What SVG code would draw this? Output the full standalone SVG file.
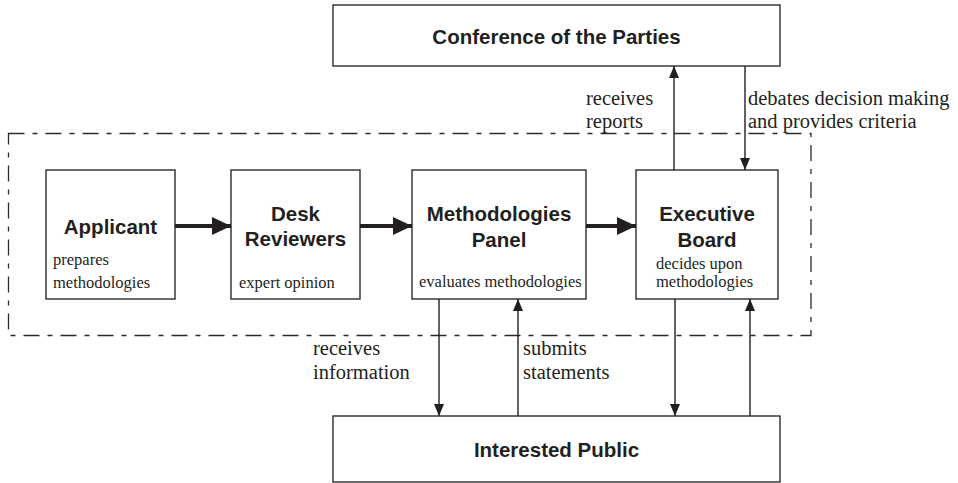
<svg xmlns="http://www.w3.org/2000/svg" width="958" height="483" viewBox="0 0 958 483">
<style>
.box{fill:#fff;stroke:#2b2b2b;stroke-width:1.4}
.bold{font-family:"Liberation Sans",Arial,sans-serif;font-weight:bold;font-size:20.5px;fill:#231f20;text-anchor:middle}
.small{font-family:"Liberation Serif","Times New Roman",serif;font-size:16.5px;fill:#231f20}
.lbl{font-family:"Liberation Serif","Times New Roman",serif;font-size:20.5px;fill:#231f20}
.thick{stroke:#231f20;stroke-width:4;fill:none}
.thin{stroke:#231f20;stroke-width:1.4;fill:none}
.dash{fill:none;stroke:#2b2b2b;stroke-width:1.3;stroke-dasharray:16 8 5 8}
</style>
<defs>
<marker id="big" markerUnits="userSpaceOnUse" markerWidth="20" markerHeight="20" refX="19" refY="10" orient="auto">
<path d="M0,1 L19,10 L0,19 Z" fill="#231f20"/>
</marker>
<marker id="sm" markerUnits="userSpaceOnUse" markerWidth="12" markerHeight="12" refX="12" refY="6" orient="auto">
<path d="M0,1 L12,6 L0,11 Z" fill="#231f20"/>
</marker>
</defs>
<rect class="dash" x="8.5" y="133.5" width="802.5" height="202"/>
<g id="conference">
<rect class="box" x="333" y="5" width="447" height="61"/>
<text class="bold" x="556.5" y="44">Conference of the Parties</text>
</g>
<g id="applicant">
<rect class="box" x="46" y="170" width="129" height="129"/>
<text class="bold" x="110.5" y="234">Applicant</text>
<text class="small" x="53" y="265">prepares</text>
<text class="small" x="53" y="288">methodologies</text>
</g>
<g id="desk">
<rect class="box" x="231" y="170" width="129" height="129"/>
<text class="bold" x="295.5" y="221">Desk</text>
<text class="bold" x="295.5" y="246">Reviewers</text>
<text class="small" x="239" y="288">expert opinion</text>
</g>
<g id="panel">
<rect class="box" x="412" y="170" width="174" height="129"/>
<text class="bold" x="499" y="221">Methodologies</text>
<text class="bold" x="499" y="247">Panel</text>
<text class="small" x="419" y="287">evaluates methodologies</text>
</g>
<g id="board">
<rect class="box" x="636" y="170" width="142" height="129"/>
<text class="bold" x="707" y="221">Executive</text>
<text class="bold" x="707" y="247">Board</text>
<text class="small" x="656" y="269">decides upon</text>
<text class="small" x="656" y="287">methodologies</text>
</g>
<g id="public">
<rect class="box" x="333" y="416" width="447" height="66"/>
<text class="bold" x="556.5" y="457">Interested Public</text>
</g>
<g id="connectors">
<line class="thick" x1="175" y1="226" x2="231" y2="226" marker-end="url(#big)"/>
<line class="thick" x1="360" y1="226" x2="412" y2="226" marker-end="url(#big)"/>
<line class="thick" x1="586" y1="226" x2="636" y2="226" marker-end="url(#big)"/>
<line class="thin" x1="674" y1="170" x2="674" y2="66" marker-end="url(#sm)"/>
<line class="thin" x1="745" y1="66" x2="745" y2="170" marker-end="url(#sm)"/>
<line class="thin" x1="439" y1="299" x2="439" y2="416" marker-end="url(#sm)"/>
<line class="thin" x1="518" y1="416" x2="518" y2="299" marker-end="url(#sm)"/>
<line class="thin" x1="675" y1="299" x2="675" y2="416" marker-end="url(#sm)"/>
<line class="thin" x1="750" y1="416" x2="750" y2="299" marker-end="url(#sm)"/>
<text class="lbl" x="586" y="105">receives</text>
<text class="lbl" x="586" y="128">reports</text>
<text class="lbl" x="748" y="105">debates decision making</text>
<text class="lbl" x="748" y="128">and provides criteria</text>
<text class="lbl" x="313" y="355">receives</text>
<text class="lbl" x="313" y="379">information</text>
<text class="lbl" x="523" y="355">submits</text>
<text class="lbl" x="523" y="379">statements</text>
</g>
</svg>
